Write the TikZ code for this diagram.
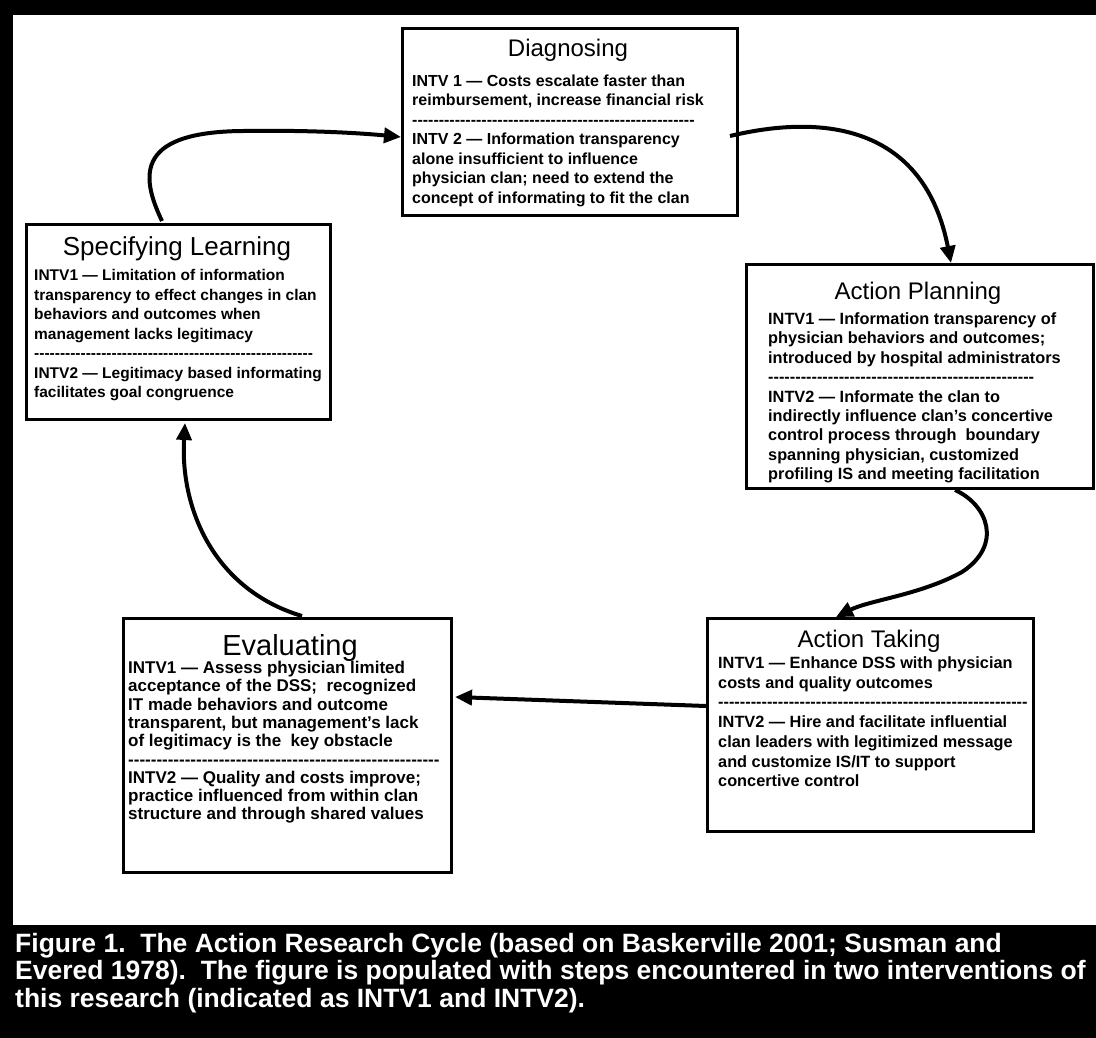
\documentclass[tikz,border=0pt]{standalone}
\usepackage{fontspec}
\setmainfont{Liberation Sans}
\usetikzlibrary{arrows.meta,calc}
\newcount\dashcnt
\newcommand\dashrow[1]{\dashcnt=0 \loop\ifnum\dashcnt<#1 -\kern0pt\advance\dashcnt by 1 \repeat}
\tikzset{
  stagebox/.style={draw, line width=3pt, rectangle, anchor=north west, inner sep=0pt},
  stagetitle/.style={anchor=base, inner sep=0pt, font=\fontsize{24}{28}\selectfont},
  stagebody/.style={anchor=north west, align=left, inner sep=0pt, font=\fontsize{16}{19.5}\selectfont\bfseries},
  cyc/.style={line width=4pt, -{Triangle[length=17pt,width=15pt]}},
}
\begin{document}
\begin{tikzpicture}[x=1pt,y=-1pt]
\useasboundingbox (0,0) rectangle (1096,1038);
\fill[white] (0,0) rectangle (1096,1038);
% frame
\fill[black] (0,0) rectangle (13,1038);
\fill[black] (0,0) rectangle (1096,15);
\fill[black] (0,925) rectangle (1096,1038);

% Diagnosing
\node[stagebox, minimum width=335pt, minimum height=187pt] (diag) at (401,27) {};
\node[stagetitle] (diagT) at (568,57) {Diagnosing};
\node[stagebody] (diagB) at (412,74.5) {INTV 1 — Costs escalate faster than\\reimbursement, increase financial risk\\\dashrow{53}\\INTV 2 — Information transparency\\alone insufficient to influence\\physician clan; need to extend the\\concept of informating to fit the clan};

% Specifying Learning
\node[stagebox, minimum width=304pt, minimum height=195pt] (sl) at (25,223) {};
\node[stagetitle, font=\fontsize{26}{30}\selectfont] (slT) at (177,255.5) {Specifying Learning};
\node[stagebody, font=\fontsize{15.5}{19.5}\selectfont\bfseries] (slB) at (34,269.5) {INTV1 — Limitation of information\\transparency to effect changes in clan\\behaviors and outcomes when\\management lacks legitimacy\\\dashrow{54}\\INTV2 — Legitimacy based informating\\facilitates goal congruence};

% Action Planning
\node[stagebox, minimum width=347pt, minimum height=224pt] (ap) at (745,263) {};
\node[stagetitle] (apT) at (918,299) {Action Planning};
\node[stagebody, font=\fontsize{16.3}{19.4}\selectfont\bfseries] (apB) at (768,312.5) {INTV1 — Information transparency of\\physician behaviors and outcomes;\\introduced by hospital administrators\\\dashrow{49}\\INTV2 — Informate the clan to\\indirectly influence clan’s concertive\\control process through\ \ boundary\\spanning physician, customized\\profiling IS and meeting facilitation};

% Action Taking
\node[stagebox, minimum width=326pt, minimum height=213pt] (at) at (706,617) {};
\node[stagetitle] (atT) at (869,647) {Action Taking};
\node[stagebody, font=\fontsize{16.3}{19.7}\selectfont\bfseries] (atB) at (718,656.5) {INTV1 — Enhance DSS with physician\\costs and quality outcomes\\\dashrow{57}\\INTV2 — Hire and facilitate influential\\clan leaders with legitimized message\\and customize IS/IT to support\\concertive control};

% Evaluating
\node[stagebox, minimum width=328pt, minimum height=254pt] (ev) at (122,617) {};
\node[stagetitle, font=\fontsize{29}{33}\selectfont] (evT) at (290,655) {Evaluating};
\node[stagebody, font=\fontsize{17}{18.3}\selectfont\bfseries] (evB) at (128,661) {INTV1 — Assess physician limited\\acceptance of the DSS;\ \ recognized\\IT made behaviors and outcome\\transparent, but management’s lack\\of legitimacy is the\ \ key obstacle\\\dashrow{55}\\INTV2 — Quality and costs improve;\\practice influenced from within clan\\structure and through shared values};

% cycle arrows
\draw[cyc] ($(sl.north west)+(137,-2)$) .. controls (140,175) and (135,130) .. (250,131) .. controls (320,130) and (370,134) .. ($(diag.north west)+(0,110)$);
\draw[cyc] ($(diag.north east)+(-9,109)$) .. controls (830,112) and (925,130) .. ($(ap.north west)+(206,0)$);
\draw[cyc] ($(ap.south west)+(210,0)$) .. controls (988,505) and (1003,545) .. (962,572) .. controls (920,595) and (870,600) .. ($(at.north west)+(130,0)$);
\draw[cyc] ($(at.north west)+(0,89)$) -- ($(ev.north east)+(2,80)$);
\draw[cyc] ($(ev.north west)+(180,-1)$) .. controls (215,590) and (180,510) .. ($(sl.south west)+(160,2)$);

% caption
\node[anchor=north west, align=left, inner sep=0pt, text=white, font=\fontsize{26.5}{27.5}\selectfont\bfseries] (cap) at (15,933) {Figure 1.\ \ The Action Research Cycle (based on Baskerville 2001; Susman and\\Evered 1978).\ \ The figure is populated with steps encountered in two interventions of\\this research (indicated as INTV1 and INTV2).};
\end{tikzpicture}
\end{document}
